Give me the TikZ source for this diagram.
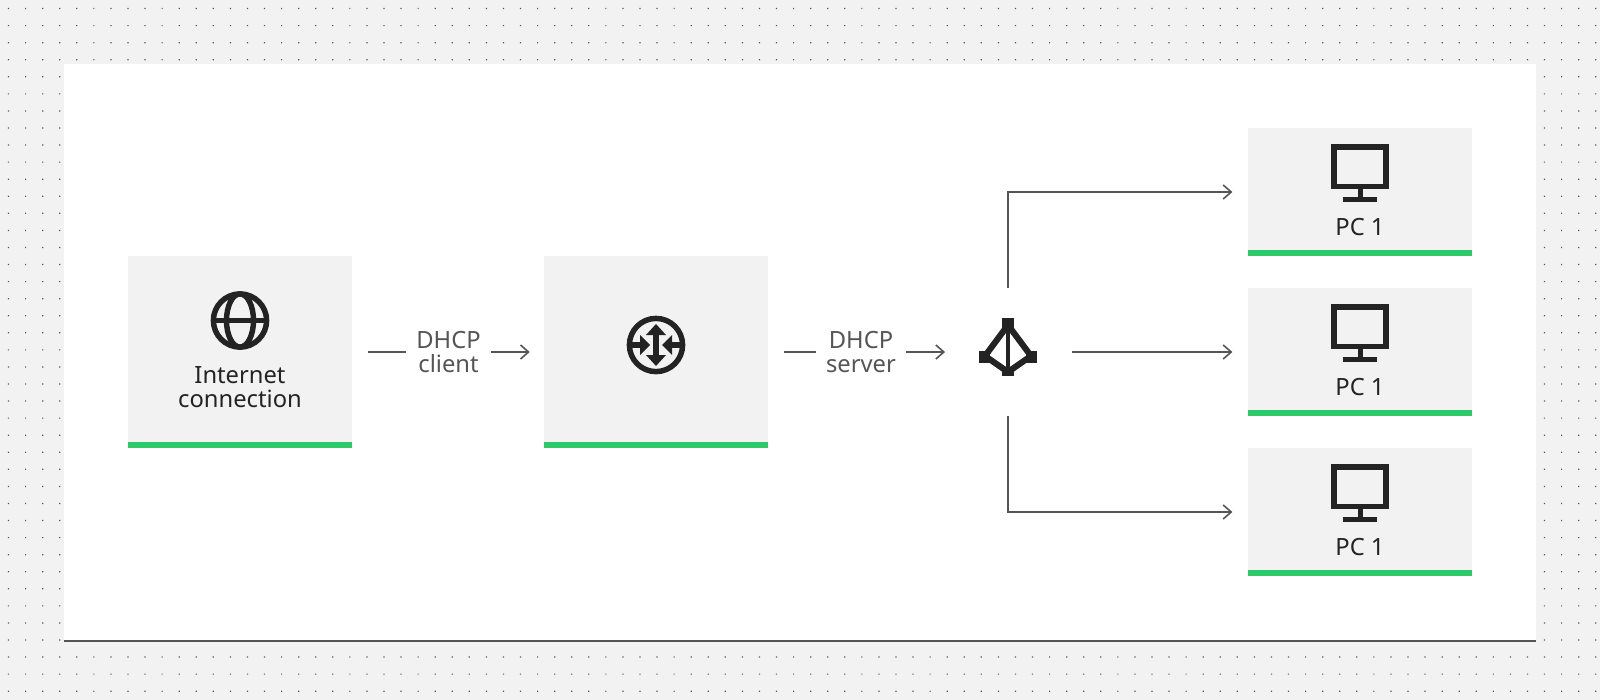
\documentclass[tikz,border=0pt]{standalone}
\usepackage{fontspec}
\setmainfont{Noto Sans}
\usetikzlibrary{arrows.meta}
\definecolor{bgg}{HTML}{F2F2F2}
\definecolor{ink}{HTML}{232323}
\definecolor{wire}{HTML}{555555}
\definecolor{grn}{HTML}{2CC96B}
\tikzset{
  cardbox/.style={fill=bgg,inner sep=0pt,minimum width=168pt},
  bigcard/.style={cardbox,minimum height=144pt},
  pccard/.style={cardbox,minimum height=96pt},
  cardtext/.style={text=ink,align=center,inner sep=0pt,font=\fontsize{17.8}{18}\selectfont},
  wirelabel/.style={text=wire,fill=white,align=center,inner xsep=7.5pt,inner ysep=0pt,font=\fontsize{17.8}{18}\selectfont},
  wireline/.style={draw=wire,line width=1.2pt,-{Straight Barb[length=6pt,width=10.5pt,line width=1.2pt]}},
  iconline/.style={draw=ink,line width=4.1pt},
  hubbox/.style={inner sep=0pt,minimum width=96pt,minimum height=96pt},
}
\newcommand{\greenbar}[1]{\fill[grn] (#1.south west) rectangle ([yshift=4.5pt]#1.south east);}
\newcommand{\pcicon}[2]{%
  \begin{scope}[shift={(#1,#2)}]
    \draw[iconline] (-26.2,-20.2) rectangle (26.2,19.7);
    \fill[ink] (-2.5,22) rectangle (2.5,31);
    \fill[ink] (-17,30) rectangle (17,35);
  \end{scope}}
\begin{document}
\begin{tikzpicture}[x=0.75pt,y=-0.75pt]
\useasboundingbox (0,0) rectangle (1600,700);
\fill[bgg] (0,0) rectangle (1600,700);
\fill[wire] \foreach \i in {0,...,93}{\foreach \j in {0,...,40}{
  ({(\i+0.5)*17.0667-0.6},{(\j+0.5)*17.0667-0.6}) rectangle ++(1.2,1.2)}};
\fill[white] (64,64) rectangle (1536,640);
\fill[wire] (64,640) rectangle (1536,642);

\node[bigcard] (inet) at (240,352) {};
\node[bigcard] (router) at (656,352) {};
\node[pccard] (pca) at (1360,192) {};
\node[pccard] (pcb) at (1360,352) {};
\node[pccard] (pcc) at (1360,512) {};
\node[hubbox] (hub) at (1008,352) {};
\greenbar{inet}\greenbar{router}\greenbar{pca}\greenbar{pcb}\greenbar{pcc}

\node[cardtext] (inettext) at (240,387) {Internet\\connection};
\node[cardtext] (pcatext) at (1360,227) {PC 1};
\node[cardtext] (pcbtext) at (1360,387) {PC 1};
\node[cardtext] (pcctext) at (1360,547) {PC 1};

% connectors
\draw[wireline,shorten <=12pt,shorten >=10.5pt] (inet) -- (router);
\draw[wireline,shorten <=12pt,shorten >=-1pt] (router) -- (hub);
\draw[wireline,shorten >=11.5pt] (hub.east) -- (pcb);
\draw[wireline,shorten >=11.5pt] (hub.north) |- (pca);
\draw[wireline,shorten >=11.5pt] (hub.south) |- (pcc);
\node[wirelabel] (lclient) at (448.5,352) {DHCP\\client};
\node[wirelabel] (lserver) at (861,352) {DHCP\\server};

% globe
\begin{scope}[shift={(240,320.5)}]
  \draw[iconline] (0,0) circle (26.6);
  \draw[iconline] (0,0) ellipse (13.5 and 26.6);
  \draw[iconline] (-26.6,0) -- (26.6,0);
\end{scope}
% router
\begin{scope}[shift={(656,345)}]
  \draw[iconline] (0,0) circle (26.6);
  \fill[ink] (-2.6,-12) rectangle (2.6,12);
  \fill[ink] (0,-21) -- (10,-10) -- (-10,-10) -- cycle;
  \fill[ink] (0,21) -- (10,10) -- (-10,10) -- cycle;
  \fill[ink] (-26,-2.6) rectangle (-15,2.6);
  \fill[ink] (-6,0) -- (-16,-10) -- (-16,10) -- cycle;
  \fill[ink] (26,-2.6) rectangle (15,2.6);
  \fill[ink] (6,0) -- (16,-10) -- (16,10) -- cycle;
\end{scope}
% hub icon
\begin{scope}[shift={(1008,352)}]
  \draw[draw=ink,line width=4.6pt] (0,-27) -- (-23,4) -- (0,20) -- (23,4) -- cycle;
  \draw[draw=ink,line width=3.4pt] (0,-27) -- (0,20);
  \fill[ink] (-6,-34) rectangle (6,-20);
  \fill[ink] (-29,-1) rectangle (-18,10.5);
  \fill[ink] (18,-1) rectangle (29,10.5);
  \fill[ink] (-6,15) rectangle (6,24);
\end{scope}
\pcicon{1360}{167}
\pcicon{1360}{327}
\pcicon{1360}{487}
\end{tikzpicture}
\end{document}
